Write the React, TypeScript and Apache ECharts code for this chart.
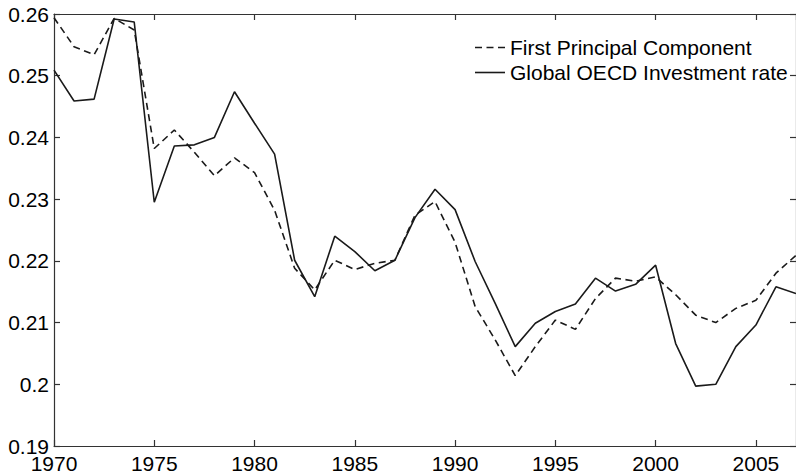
import React, { useEffect, useRef } from "react";
import * as echarts from "echarts";

const years: number[] = Array.from({ length: 38 }, (_, i) => 1970 + i);

const firstPrincipalComponent: number[] = [
  0.2594, 0.2547, 0.2534, 0.2593, 0.2574, 0.2382, 0.2412, 0.2376, 0.2338, 0.2367,
  0.2343, 0.2282, 0.2188, 0.2153, 0.2201, 0.2186, 0.2196, 0.2201, 0.2274, 0.2296,
  0.2230, 0.2126, 0.2072, 0.2014, 0.2061, 0.2104, 0.2089, 0.2139, 0.2172, 0.2167,
  0.2174, 0.2145, 0.2112, 0.2100, 0.2123, 0.2136, 0.2180, 0.2209,
];

const oecdInvestmentRate: number[] = [
  0.2509, 0.2459, 0.2462, 0.2592, 0.2587, 0.2295, 0.2386, 0.2388, 0.2400, 0.2474,
  0.2423, 0.2373, 0.2201, 0.2142, 0.2240, 0.2215, 0.2184, 0.2201, 0.2270, 0.2316,
  0.2283, 0.2199, 0.2131, 0.2061, 0.2099, 0.2118, 0.2130, 0.2172, 0.2151, 0.2162,
  0.2193, 0.2066, 0.1997, 0.2000, 0.2061, 0.2096, 0.2158, 0.2147,
];

const seriesNames: string[] = ["First Principal Component", "Global OECD Investment rate"];

const FONT = "'Liberation Sans', Arial, sans-serif";
const INK = "#1a1a1a";
const AXIS = "#333";
const TEXT = "#000";
const DASH = [7, 4.5];

export default function App() {
  const ref = useRef<HTMLDivElement>(null);
  useEffect(() => {
    if (!ref.current) return;
    const chart = echarts.init(ref.current, undefined, { renderer: "svg" });
    const pcData = years.map((y, i) => [y, firstPrincipalComponent[i]]);
    const oecdData = years.map((y, i) => [y, oecdInvestmentRate[i]]);
    const axisLine = { show: true, lineStyle: { color: AXIS, width: 1.2 } };
    const axisTick = { show: true, inside: true, length: 6, lineStyle: { color: AXIS, width: 1.2 } };
    const legendRows = [
      { name: seriesNames[0], y: 47.5, dash: DASH },
      { name: seriesNames[1], y: 72.5, dash: null as number[] | null },
    ];
    const legendGraphics: any[] = [];
    legendRows.forEach((r) => {
      legendGraphics.push({
        type: "line",
        shape: { x1: 475, y1: r.y, x2: 505, y2: r.y },
        style: { stroke: INK, lineWidth: 1.6, lineDash: r.dash || undefined },
        silent: true,
      });
      legendGraphics.push({
        type: "text",
        x: 510,
        y: r.y,
        style: {
          text: r.name,
          font: `21px ${FONT}`,
          fill: TEXT,
          verticalAlign: "middle",
          align: "left",
        },
        silent: true,
      });
    });
    chart.setOption({
      animation: false,
      backgroundColor: "#fff",
      grid: { left: 54, top: 14, width: 743, height: 432, containLabel: false },
      graphic: legendGraphics,
      xAxis: [
        {
          type: "value",
          min: 1970,
          max: 2007,
          interval: 5,
          position: "bottom",
          axisLine,
          axisTick,
          splitLine: { show: false },
          axisLabel: {
            fontFamily: FONT,
            fontSize: 21,
            lineHeight: 18,
            color: TEXT,
            margin: 8,
            showMaxLabel: false,
            formatter: (v: number) => (v % 5 === 0 ? String(v) : ""),
          },
        },
        {
          type: "value",
          min: 1970,
          max: 2007,
          interval: 5,
          position: "top",
          axisLine,
          axisTick,
          splitLine: { show: false },
          axisLabel: { show: false },
        },
      ],
      yAxis: [
        {
          type: "value",
          min: 0.19,
          max: 0.26,
          interval: 0.01,
          position: "left",
          axisLine,
          axisTick,
          splitLine: { show: false },
          axisLabel: {
            fontFamily: FONT,
            fontSize: 21,
            lineHeight: 16,
            color: TEXT,
            margin: 5,
            formatter: (v: number) => String(parseFloat(v.toFixed(2))),
          },
        },
        {
          type: "value",
          min: 0.19,
          max: 0.26,
          interval: 0.01,
          position: "right",
          axisLine,
          axisTick,
          splitLine: { show: false },
          axisLabel: { show: false },
        },
      ],
      series: [
        {
          name: seriesNames[0],
          type: "line",
          data: pcData,
          symbol: "none",
          lineStyle: { color: INK, width: 1.6, type: DASH },
          itemStyle: { color: INK },
        },
        {
          name: seriesNames[1],
          type: "line",
          data: oecdData,
          symbol: "none",
          lineStyle: { color: INK, width: 1.6, type: "solid" },
          itemStyle: { color: INK },
        },
      ],
    });
    return () => chart.dispose();
  }, []);
  return (
    <div
      ref={ref}
      style={{ position: "fixed", left: 0, top: 0, width: 796, height: 476, background: "#fff" }}
    />
  );
}
